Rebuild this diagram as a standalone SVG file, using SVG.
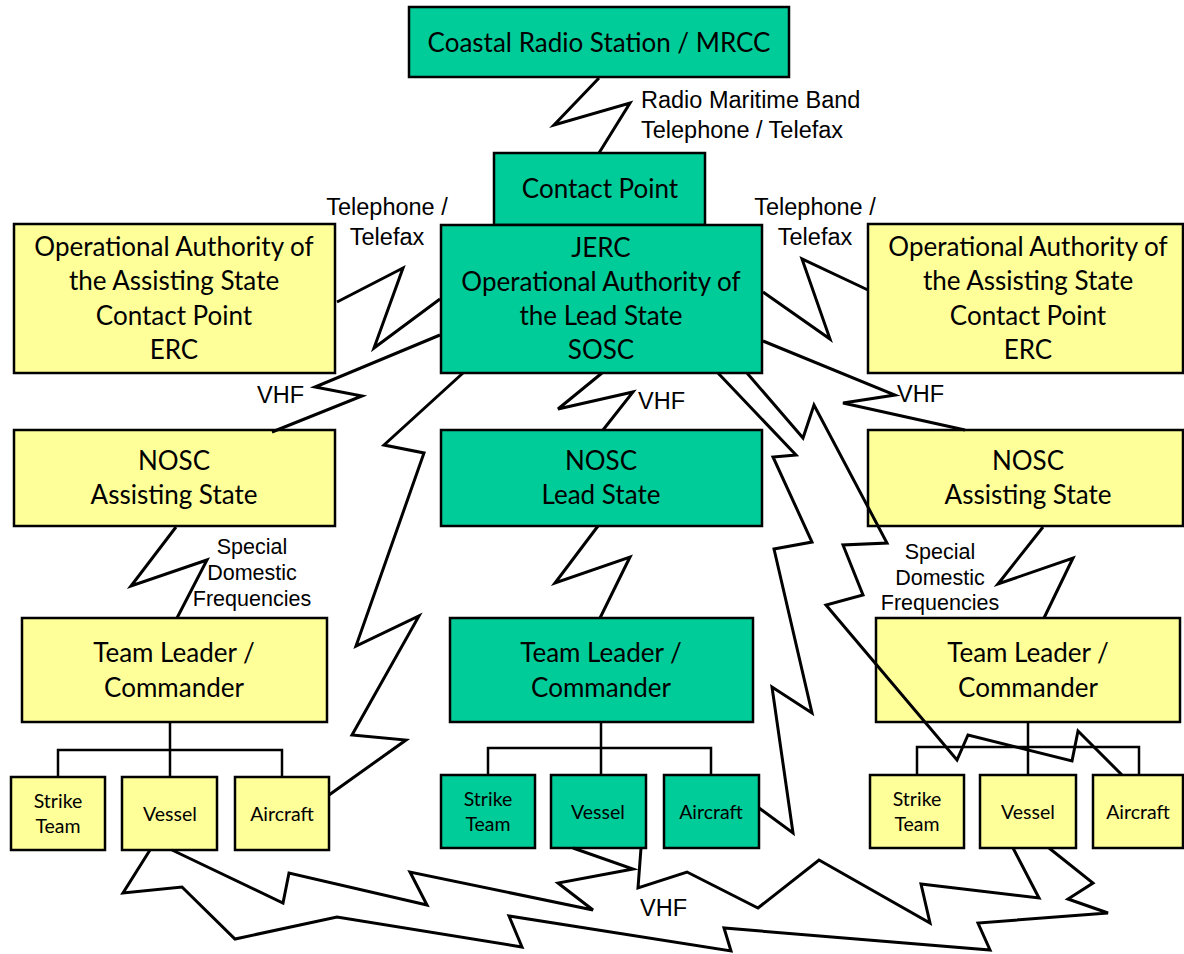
<svg xmlns="http://www.w3.org/2000/svg" width="1184" height="954" viewBox="0 0 1184 954">
<style>
.g{fill:#00CC99;stroke:#000;stroke-width:2.5}
.y{fill:#FFFF99;stroke:#000;stroke-width:2.5}
.t{font-family:Lato,"Open Sans",sans-serif;font-size:26px;fill:#000;text-anchor:middle}
.s{font-family:Lato,"Open Sans",sans-serif;font-size:19.5px;fill:#000;text-anchor:middle}
.l{font-family:"Liberation Sans",Arial,sans-serif;font-size:23.5px;fill:#000}
.lm{font-family:"Liberation Sans",Arial,sans-serif;font-size:21.5px;fill:#000;text-anchor:middle}
.c{fill:none;stroke:#000;stroke-width:3;stroke-linejoin:miter}
.tr{fill:none;stroke:#000;stroke-width:2.5}
</style>
<rect width="1184" height="954" fill="#fff"/>
<g id="coastal"><rect class="g" x="409" y="7" width="380" height="70"/><text class="t" x="599" y="52">Coastal Radio Station / MRCC</text></g>
<g id="contact"><rect class="g" x="494" y="153" width="211" height="72"/><text class="t" x="600" y="198">Contact Point</text></g>
<g id="jerc"><rect class="g" x="441" y="225" width="321" height="148"/>
<text class="t" x="601" y="257">JERC</text><text class="t" x="601" y="291">Operational Authority of</text><text class="t" x="601" y="325">the Lead State</text><text class="t" x="601" y="359">SOSC</text></g>
<g id="oa-left"><rect class="y" x="14" y="224" width="321" height="149"/>
<text class="t" x="174" y="256">Operational Authority of</text><text class="t" x="174" y="290">the Assisting State</text><text class="t" x="174" y="325">Contact Point</text><text class="t" x="174" y="359">ERC</text></g>
<g id="oa-right"><rect class="y" x="868" y="224" width="315" height="149"/>
<text class="t" x="1028" y="256">Operational Authority of</text><text class="t" x="1028" y="290">the Assisting State</text><text class="t" x="1028" y="325">Contact Point</text><text class="t" x="1028" y="359">ERC</text></g>
<g id="nosc-left"><rect class="y" x="14" y="430" width="321" height="96"/><text class="t" x="174" y="470">NOSC</text><text class="t" x="174" y="504">Assisting State</text></g>
<g id="nosc-lead"><rect class="g" x="441" y="430" width="321" height="96"/><text class="t" x="601" y="470">NOSC</text><text class="t" x="601" y="504">Lead State</text></g>
<g id="nosc-right"><rect class="y" x="868" y="430" width="315" height="96"/><text class="t" x="1028" y="470">NOSC</text><text class="t" x="1028" y="504">Assisting State</text></g>
<g id="tl-left"><rect class="y" x="22" y="618" width="305" height="104"/><text class="t" x="174" y="662">Team Leader /</text><text class="t" x="174" y="697">Commander</text></g>
<g id="tl-lead"><rect class="g" x="450" y="618" width="303" height="104"/><text class="t" x="601" y="662">Team Leader /</text><text class="t" x="601" y="697">Commander</text></g>
<g id="tl-right"><rect class="y" x="876" y="618" width="304" height="104"/><text class="t" x="1028" y="662">Team Leader /</text><text class="t" x="1028" y="697">Commander</text></g>
<g id="strike-left"><rect class="y" x="11" y="777" width="94" height="73"/><text class="s" x="58" y="808">Strike</text><text class="s" x="58" y="833">Team</text></g>
<g id="vessel-left"><rect class="y" x="122" y="777" width="95" height="73"/><text class="s" x="170" y="821">Vessel</text></g>
<g id="aircraft-left"><rect class="y" x="235" y="777" width="94" height="73"/><text class="s" x="282" y="821">Aircraft</text></g>
<g id="strike-lead"><rect class="g" x="441" y="775" width="94" height="73"/><text class="s" x="488" y="806">Strike</text><text class="s" x="488" y="831">Team</text></g>
<g id="vessel-lead"><rect class="g" x="551" y="775" width="95" height="73"/><text class="s" x="598" y="819">Vessel</text></g>
<g id="aircraft-lead"><rect class="g" x="664" y="775" width="95" height="73"/><text class="s" x="711" y="819">Aircraft</text></g>
<g id="strike-right"><rect class="y" x="870" y="775" width="94" height="73"/><text class="s" x="917" y="806">Strike</text><text class="s" x="917" y="831">Team</text></g>
<g id="vessel-right"><rect class="y" x="980" y="775" width="96" height="73"/><text class="s" x="1028" y="819">Vessel</text></g>
<g id="aircraft-right"><rect class="y" x="1093" y="775" width="90" height="73"/><text class="s" x="1138" y="819">Aircraft</text></g>
<g id="connectors">
<path class="tr" d="M170 722V777M58 777V750H282V777"/>
<path class="tr" d="M601 722V775M488 775V748H711V775"/>
<path class="tr" d="M1028 722V775M917 775V747H1139V775"/>
<polyline class="c" points="599,78 554,125 630,103 599,153"/>
<polyline class="c" points="337,302 403,268 374,348 440,299"/>
<polyline class="c" points="440,335 315,387 362,396 272,432"/>
<polyline class="c" points="763,292 830,339 802,259 868,290"/>
<polyline class="c" points="763,341 895,395 843,403 965,430"/>
<polyline class="c" points="602,373 558,409 633,392 603,430"/>
<polyline class="c" points="598,526 555,583 630,557 600,618"/>
<polyline class="c" points="176,527 131,586 207,560 177,618"/>
<polyline class="c" points="1043,527 998,584 1073,558 1044,618"/>
<polyline class="c" points="463,373 384,445 424,453 356,646 419,616 352,735 406,740 329,795"/>
<polyline class="c" points="718,373 796,455 773,457 812,542 774,549 812,713 772,687 793,833 759,808"/>
<polyline class="c" points="747,373 803,438 814,405 887,543 843,545 863,595 826,605 957,760 968,735 1072,761 1078,731 1122,775"/>
<polyline class="c" points="172,850 283,903 289,873 427,905 410,872 593,910 558,883 633,869 573,848"/>
<polyline class="c" points="150,850 123,893 182,887 235,939 337,917 522,947 509,916 731,951 724,928 990,950 978,923 1108,913 1068,899 1093,883 1049,848"/>
<polyline class="c" points="641,848 638,888 687,872 758,908 819,860 930,923 921,884 1039,898 1013,848"/>
</g>
<g id="labels">
<text class="l" x="641" y="108">Radio Maritime Band</text>
<text class="l" x="641" y="138">Telephone / Telefax</text>
<text class="l" x="387" y="215" text-anchor="middle">Telephone /</text>
<text class="l" x="387" y="245" text-anchor="middle">Telefax</text>
<text class="l" x="815" y="215" text-anchor="middle">Telephone /</text>
<text class="l" x="815" y="245" text-anchor="middle">Telefax</text>
<text class="l" x="257" y="403">VHF</text>
<text class="l" x="638" y="409">VHF</text>
<text class="l" x="897" y="402">VHF</text>
<text class="l" x="640" y="916">VHF</text>
<text class="lm" x="252" y="554">Special</text>
<text class="lm" x="252" y="580">Domestic</text>
<text class="lm" x="252" y="606">Frequencies</text>
<text class="lm" x="940" y="559">Special</text>
<text class="lm" x="940" y="585">Domestic</text>
<text class="lm" x="940" y="610">Frequencies</text>
</g>
</svg>
